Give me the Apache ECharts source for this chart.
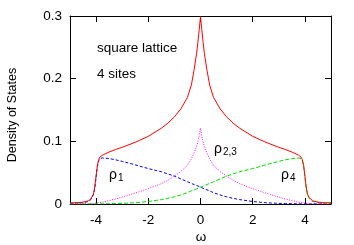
<!DOCTYPE html>
<html>
<head>
<meta charset="utf-8">
<script src="https://cdn.jsdelivr.net/npm/echarts@6/dist/echarts.min.js"></script>
<style>html,body{margin:0;padding:0;background:#fff}#c{width:354px;height:245px}</style>
</head>
<body>
<div id="c"></div>
<script>
var omega = [-5,-4.75,-4.5,-4.3,-4.2,-4.15,-4.1,-4.05,-4,-3.95,-3.9,-3.85,-3.75,-3.5,-3.25,-3,-2.5,-2,-1.5,-1.25,-1,-0.75,-0.5,-0.35,-0.25,-0.15,-0.1,-0.05,0,
  0.05,0.1,0.15,0.25,0.35,0.5,0.75,1,1.25,1.5,2,2.5,3,3.25,3.5,3.75,3.85,3.9,3.95,4,4.05,4.1,4.15,4.2,4.3,4.5,4.75,5];
var total = [0.002,0.002,0.003,0.005,0.008,0.011,0.016,0.027,0.045,0.062,0.071,0.075,0.078,0.083,0.087,0.0905,0.0985,0.108,0.121,0.129,0.139,0.152,0.170,0.190,0.213,0.240,0.258,0.278,0.299,
  0.278,0.258,0.240,0.213,0.190,0.170,0.152,0.139,0.129,0.121,0.108,0.0985,0.0905,0.087,0.083,0.078,0.075,0.071,0.062,0.045,0.027,0.016,0.011,0.008,0.005,0.003,0.002,0.002];
var rho1 = [0.001,0.0015,0.002,0.004,0.007,0.010,0.015,0.025,0.043,0.060,0.069,0.0725,0.0735,0.0725,0.0705,0.068,0.0625,0.0565,0.0515,0.048,0.0445,0.040,0.0355,0.033,0.031,0.0295,0.0285,0.0278,0.027,
  0.026,0.025,0.024,0.0225,0.021,0.018,0.0145,0.0115,0.009,0.007,0.004,0.002,0.001,0.0007,0.0005,0.0003,0.0002,0.0002,0.0002,0.0001,0.0001,0.0001,0.0001,0.0001,0.0001,0.0001,0.0001,0.0001];
var rho23 = [0,0,0.0002,0.0004,0.0006,0.0008,0.001,0.0012,0.0015,0.0018,0.002,0.0024,0.003,0.0055,0.008,0.011,0.0175,0.0245,0.0325,0.038,0.0445,0.052,0.0615,0.072,0.081,0.092,0.099,0.108,0.121,
  0.108,0.099,0.092,0.081,0.072,0.0615,0.052,0.0445,0.038,0.0325,0.0245,0.0175,0.011,0.008,0.0055,0.003,0.0024,0.002,0.0018,0.0015,0.0012,0.001,0.0008,0.0006,0.0004,0.0002,0,0];
var rho4 = [0.0001,0.0001,0.0001,0.0001,0.0001,0.0001,0.0001,0.0001,0.0001,0.0002,0.0002,0.0002,0.0003,0.0005,0.0007,0.001,0.002,0.004,0.007,0.009,0.0115,0.0145,0.018,0.021,0.0225,0.024,0.025,0.026,0.027,
  0.0278,0.0285,0.0295,0.031,0.033,0.0355,0.040,0.0445,0.048,0.0515,0.0565,0.0625,0.068,0.0705,0.0725,0.0735,0.0725,0.069,0.060,0.043,0.025,0.015,0.010,0.007,0.004,0.002,0.0015,0.001];
var xTicks = [-4,-2,0,2,4];
var yTicks = [0,0.1,0.2,0.3];

function pairs(ys){ return omega.map(function(x,i){ return [x, ys[i]]; }); }

var FONT = 'Liberation Sans';
var FS = 13.5;
var chart = echarts.init(document.getElementById('c'), null, {renderer:'canvas'});
var xCommon = {type:'value', min:-5, max:5,
  axisLine:{show:true, onZero:false, lineStyle:{color:'#000', width:1}},
  splitLine:{show:false}};
var yCommon = {type:'value', min:0, max:0.3, interval:0.1,
  axisLine:{show:true, onZero:false, lineStyle:{color:'#000', width:1}},
  splitLine:{show:false}};
chart.setOption({
  animation:false,
  backgroundColor:'#fff',
  grid:{left:70, right:23, top:16, bottom:41, show:false},
  xAxis:[
    Object.assign({}, xCommon, {position:'bottom',
      axisTick:{show:true, inside:true, length:6, customValues:xTicks, lineStyle:{color:'#000'}},
      axisLabel:{show:true, customValues:xTicks, margin:9, color:'#000', fontFamily:FONT, fontSize:FS}}),
    Object.assign({}, xCommon, {position:'top',
      axisTick:{show:true, inside:true, length:6, customValues:xTicks, lineStyle:{color:'#000'}},
      axisLabel:{show:false}})
  ],
  yAxis:[
    Object.assign({}, yCommon, {position:'left',
      axisTick:{show:true, inside:true, length:6, lineStyle:{color:'#000'}},
      axisLabel:{show:true, margin:8, color:'#000', fontFamily:FONT, fontSize:FS}}),
    Object.assign({}, yCommon, {position:'right',
      axisTick:{show:true, inside:true, length:6, lineStyle:{color:'#000'}},
      axisLabel:{show:false}})
  ],
  series:[
    {type:'line', data:pairs(total), showSymbol:false, symbol:'none', smooth:false,
     lineStyle:{color:'#ff0000', width:1, type:'solid'}, z:5},
    {type:'line', data:pairs(rho1), showSymbol:false, symbol:'none',
     lineStyle:{color:'#0000ff', width:1, type:[3,2]}, z:3},
    {type:'line', data:pairs(rho23), showSymbol:false, symbol:'none',
     lineStyle:{color:'#ff00ff', width:1, type:[1,1.5]}, z:3},
    {type:'line', data:pairs(rho4), showSymbol:false, symbol:'none',
     lineStyle:{color:'#00dd00', width:1, type:[4,2]}, z:4}
  ],
  graphic:[
    {type:'text', x:13, y:115, rotation:Math.PI/2,
     style:{text:'Density of States', align:'center', verticalAlign:'middle', font:'12.5px '+FONT, fill:'#000'}},
    {type:'text', x:201, y:237,
     style:{text:'ω', align:'center', verticalAlign:'middle', font:FS+'px '+FONT, fill:'#000'}},
    {type:'text', x:97, y:48,
     style:{text:'square lattice', align:'left', verticalAlign:'middle', font:FS+'px '+FONT, fill:'#000'}},
    {type:'text', x:97, y:74,
     style:{text:'4 sites', align:'left', verticalAlign:'middle', font:FS+'px '+FONT, fill:'#000'}},
    {type:'text', x:109, y:175,
     style:{text:'ρ', align:'left', verticalAlign:'middle', font:'14px '+FONT, fill:'#000'}},
    {type:'text', x:118, y:178,
     style:{text:'1', align:'left', verticalAlign:'middle', font:'10px '+FONT, fill:'#000'}},
    {type:'text', x:214, y:149,
     style:{text:'ρ', align:'left', verticalAlign:'middle', font:'14px '+FONT, fill:'#000'}},
    {type:'text', x:223, y:152,
     style:{text:'2,3', align:'left', verticalAlign:'middle', font:'10px '+FONT, fill:'#000'}},
    {type:'text', x:281, y:175,
     style:{text:'ρ', align:'left', verticalAlign:'middle', font:'14px '+FONT, fill:'#000'}},
    {type:'text', x:290, y:178,
     style:{text:'4', align:'left', verticalAlign:'middle', font:'10px '+FONT, fill:'#000'}}
  ]
});
</script>
</body>
</html>
